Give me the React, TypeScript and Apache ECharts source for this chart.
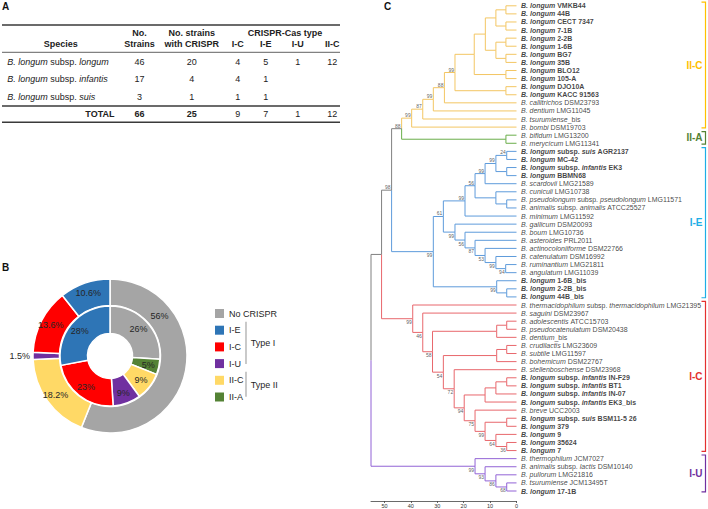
import React, { useEffect, useRef } from 'react';
import * as echarts from 'echarts';

const FONT = '"Liberation Sans", Arial, Helvetica, sans-serif';

// ---------------- Panel A: table ----------------
const speciesRows: [string, string][] = [
  ['B. longum', 'longum'],
  ['B. longum', 'infantis'],
  ['B. longum', 'suis'],
];
const noStrains = [46, 17, 3];
const withCrispr = [20, 4, 1];
const casTypes = ['I-C', 'I-E', 'I-U', 'II-C'];
const countIC: (number | null)[] = [4, 4, 1];
const countIE: (number | null)[] = [5, 1, 1];
const countIU: (number | null)[] = [1, null, null];
const countIIC: (number | null)[] = [12, null, null];
const totals = [66, 25, 9, 7, 1, 12];

// ---------------- Panel B: donut ----------------
const outerNames = ['No CRISPR', 'II-C', 'I-U', 'I-C', 'I-E'];
const outerPct = [56, 18.2, 1.5, 13.6, 10.6];
const innerNames = ['No CRISPR', 'II-A', 'II-C', 'I-U', 'I-C', 'I-E'];
const innerPct = [26, 5, 9, 9, 23, 28];
const legendOrder = ['No CRISPR', 'I-E', 'I-C', 'I-U', 'II-C', 'II-A'];

// ---------------- Panel C: tree ----------------
// [species, subspecies, strain, bold(this study)]
const leaves: [string, string, string, number][] = [
  ['B. longum', '', 'VMKB44', 1],
  ['B. longum', '', '44B', 1],
  ['B. longum', '', 'CECT 7347', 1],
  ['B. longum', '', '7-1B', 1],
  ['B. longum', '', '2-2B', 1],
  ['B. longum', '', '1-6B', 1],
  ['B. longum', '', 'BG7', 1],
  ['B. longum', '', '35B', 1],
  ['B. longum', '', 'BLO12', 1],
  ['B. longum', '', '105-A', 1],
  ['B. longum', '', 'DJO10A', 1],
  ['B. longum', '', 'KACC 91563', 1],
  ['B. callitrichos', '', 'DSM23793', 0],
  ['B. dentium', '', 'LMG11045', 0],
  ['B. tsurumiense', '', '_bis', 0],
  ['B. bombi', '', 'DSM19703', 0],
  ['B. bifidum', '', 'LMG13200', 0],
  ['B. merycicum', '', 'LMG11341', 0],
  ['B. longum', 'suis', 'AGR2137', 1],
  ['B. longum', '', 'MC-42', 1],
  ['B. longum', 'infantis', 'EK3', 1],
  ['B. longum', '', 'BBMN68', 1],
  ['B. scardovii', '', 'LMG21589', 0],
  ['B. cuniculi', '', 'LMG10738', 0],
  ['B. pseudolongum', 'pseudolongum', 'LMG11571', 0],
  ['B. animalis', 'animalis', 'ATCC25527', 0],
  ['B. minimum', '', 'LMG11592', 0],
  ['B. gallicum', '', 'DSM20093', 0],
  ['B. boum', '', 'LMG10736', 0],
  ['B. asteroides', '', 'PRL2011', 0],
  ['B. actinocoloniiforme', '', 'DSM22766', 0],
  ['B. catenulatum', '', 'DSM16992', 0],
  ['B. ruminantium', '', 'LMG21811', 0],
  ['B. angulatum', '', 'LMG11039', 0],
  ['B. longum', '', '1-6B_bis', 1],
  ['B. longum', '', '2-2B_bis', 1],
  ['B. longum', '', '44B_bis', 1],
  ['B. thermacidophilum', 'thermacidophilum', 'LMG21395', 0],
  ['B. saguini', '', 'DSM23967', 0],
  ['B. adolescentis', '', 'ATCC15703', 0],
  ['B. pseudocatenulatum', '', 'DSM20438', 0],
  ['B. dentium', '', '_bis', 0],
  ['B. crudilactis', '', 'LMG23609', 0],
  ['B. subtile', '', 'LMG11597', 0],
  ['B. bohemicum', '', 'DSM22767', 0],
  ['B. stellenboschense', '', 'DSM23968', 0],
  ['B. longum', 'infantis', 'IN-F29', 1],
  ['B. longum', 'infantis', 'BT1', 1],
  ['B. longum', 'infantis', 'IN-07', 1],
  ['B. longum', 'infantis', 'EK3_bis', 1],
  ['B. breve', '', 'UCC2003', 0],
  ['B. longum', 'suis', 'BSM11-5 26', 1],
  ['B. longum', '', '379', 1],
  ['B. longum', '', '9', 1],
  ['B. longum', '', '35624', 1],
  ['B. longum', '', '7', 1],
  ['B. thermophilum', '', 'JCM7027', 0],
  ['B. animalis', 'lactis', 'DSM10140', 0],
  ['B. pullorum', '', 'LMG21816', 0],
  ['B. tsurumiense', '', 'JCM13495T', 0],
  ['B. longum', '', '17-1B', 1],
];
const cladeNames = ['II-C', 'II-A', 'I-E', 'I-C', 'I-U'];
const cladeSizes = [16, 2, 19, 19, 5];

// internal node: [height (distance units), bootstrap (0 = none), childA, childB]; leaf = 1-based leaf index
type TNode = number | [number, number, TNode, TNode];
const cladeII: TNode = [43.5, 88,
  [39.7, 99, [35.5, 87, [31.5, 99, [27.3, 88, [23.3, 99,
    [16, 0, [11.8, 0, [7.8, 0, [4, 0, 1, 2], [4, 0, 3, 4]], [7.8, 0, [4, 0, 5, 6], [4, 0, 7, 8]]], [4, 0, 9, 10]],
    [4, 0, 11, 12]], 13], 14], 15], 16],
  [4, 0, 17, 18]];
const cladeIE: TNode = [31.5, 99,
  [27.7, 61,
    [19.5, 99, [15.7, 56, [11.9, 99, [7.8, 99, [3.7, 24, 19, 20], [3.7, 0, 21, 22]], 23], [7.8, 0, 24, [3.7, 0, 25, 26]]], 27],
    [23.3, 99, 28, [19.5, 56, 29, [15.7, 87, 30, [11.9, 53, 31, [7.8, 99, 32, [4.1, 94, 33, 34]]]]]]],
  [7.5, 99, 35, [3.7, 0, 36, 37]]];
const cladeIC: TNode = [39.3, 99, 38,
  [35.5, 46, 39,
    [31.8, 58, [7.5, 0, [3.7, 0, 40, 41], 42],
      [27.7, 54, [7.5, 0, [3.7, 0, 43, 44], 45],
        [23.6, 72, 46,
          [19.8, 94, [11.9, 0, [7.8, 0, [3.7, 0, 47, 48], 49], 50],
            [15.7, 75, 51, [11.9, 99, [3.7, 0, 52, 53], [7.8, 64, 54, [3.7, 36, 55, 56]]]]]]]]]];
const cladeIU: TNode = [15.7, 99, 57, [11.9, 93, 58, [7.8, 86, 59, [3.7, 68, 60, 61]]]];
const tree: TNode = [55.1, 0, [51.1, 0, [47.3, 98, cladeII, cladeIE], cladeIC], cladeIU];
const axisTickValues = [0, 10, 20, 30, 40, 50];
// bootstrap values from this leaf downward are written under their branch
const labelsBelowFromLeaf = 28;

// ---------------- styles ----------------
const donutColors: Record<string, string> = {
  'No CRISPR': '#A5A5A5', 'I-E': '#2E75B6', 'I-C': '#FF0000', 'I-U': '#7030A0', 'II-C': '#FFD966', 'II-A': '#548235',
};
const branchColors = ['#F3C663', '#6AAE4A', '#5E9BDB', '#E8676C', '#9263D6', '#808080'];
const bracketColors = ['#FFC000', '#548235', '#1EAEE6', '#E3302F', '#7030A0'];

function buildTree() {
  const leafClade: number[] = [];
  cladeSizes.forEach((n, ci) => { for (let k = 0; k < n; k++) leafClade.push(ci); });
  const edges: number[][] = [];
  const boots: { h: number; y: number; bs: number }[] = [];
  const walk = (node: TNode): { h: number; y: number; c: number } => {
    if (typeof node === 'number') return { h: 0, y: node, c: leafClade[node - 1] };
    const [h, bs, a, b] = node;
    const ca = walk(a);
    const cb = walk(b);
    const y = (ca.y + cb.y) / 2;
    for (const ch of [ca, cb]) edges.push([h, y, ch.h, ch.y, ch.c]);
    if (bs) boots.push({ h, y, bs });
    return { h, y, c: ca.c === cb.c ? ca.c : 5 };
  };
  walk(tree);
  return { edges, boots };
}

function leafLabel(l: [string, string, string, number]) {
  const [sp, sub, st, bold] = l;
  const si = bold ? 'bi' : 'i';
  const sn = bold ? 'b' : 'n';
  let s = `{${si}|${sp}}`;
  if (sub) s += `{${sn}|\u00A0subsp.\u00A0}{${si}|${sub}}`;
  s += st.startsWith('_') ? `{${sn}|${st}}` : `{${sn}|\u00A0${st}}`;
  return s;
}

function tableGraphics() {
  const els: any[] = [];
  const colX = [139.5, 191.7, 237.7, 265.7, 297.7, 332.3];
  const rowY = [61.7, 79.3, 97.3];
  const t = (x: number, y: number, text: string, align = 'center', bold = false, rich?: any) => ({
    type: 'text', x, y, silent: true,
    style: {
      text, fill: '#222', fontSize: 9, fontFamily: FONT, fontWeight: bold ? 'bold' : 'normal',
      align, verticalAlign: 'middle', textAlign: align, textVerticalAlign: 'middle', rich,
    },
  });
  const line = (y: number, w: number) => ({
    type: 'line', silent: true, shape: { x1: 2, y1: y, x2: 340, y2: y }, style: { stroke: '#3a3a3a', lineWidth: w },
  });
  els.push(line(25, 1.3), line(52.3, 0.8), line(106, 1.3), line(122.3, 1.5));
  els.push(t(139.5, 33.3, 'No.', 'center', true), t(139.5, 44.3, 'Strains', 'center', true));
  els.push(t(191.7, 33.3, 'No. strains', 'center', true), t(191.7, 44.3, 'with CRISPR', 'center', true));
  els.push(t(285, 33.3, 'CRISPR-Cas type', 'center', true));
  els.push(t(60.7, 44.3, 'Species', 'center', true));
  casTypes.forEach((c, i) => els.push(t(colX[2 + i], 44.3, c, 'center', true)));
  const italic = { fontStyle: 'italic', fontSize: 9, fontFamily: FONT, fill: '#222' };
  const plain = { fontSize: 9, fontFamily: FONT, fill: '#222' };
  speciesRows.forEach(([sp, sub], r) => {
    els.push(t(7.3, rowY[r], `{i|${sp}}{n|\u00A0subsp.\u00A0}{i|${sub}}`, 'left', false, { i: italic, n: plain }));
    const vals = [noStrains[r], withCrispr[r], countIC[r], countIE[r], countIU[r], countIIC[r]];
    vals.forEach((v, c) => { if (v !== null) els.push(t(colX[c], rowY[r], String(v))); });
  });
  els.push(t(114.5, 114.3, 'TOTAL', 'right', true));
  totals.forEach((v, c) => els.push(t(colX[c], 114.3, String(v), 'center', c < 2)));
  return els;
}

function buildOption() {
  const { edges, boots } = buildTree();
  const leafRich = leaves.map(leafLabel);
  const base = { fontSize: 7, fontFamily: FONT, color: '#111' };
  const bracketData: number[][] = [];
  let start = 1;
  cladeSizes.forEach((n, ci) => { bracketData.push([0, start - 0.45, start + n - 1 + 0.1, ci]); start += n; });

  const legendFont = { fontSize: 9, fontFamily: FONT, fill: '#262626' };
  const graphic: any[] = [
    ...tableGraphics(),
    { type: 'text', x: 2, y: 6, style: { text: 'A', fontSize: 10, fontWeight: 'bold', fontFamily: FONT, fill: '#111', verticalAlign: 'middle', textVerticalAlign: 'middle' } },
    { type: 'text', x: 2, y: 267.7, style: { text: 'B', fontSize: 10, fontWeight: 'bold', fontFamily: FONT, fill: '#111', verticalAlign: 'middle', textVerticalAlign: 'middle' } },
    { type: 'text', x: 384, y: 6.7, style: { text: 'C', fontSize: 10, fontWeight: 'bold', fontFamily: FONT, fill: '#111', verticalAlign: 'middle', textVerticalAlign: 'middle' } },
    { type: 'line', shape: { x1: 246, y1: 321.7, x2: 246, y2: 364 }, style: { stroke: '#A6A6A6', lineWidth: 1.2 } },
    { type: 'line', shape: { x1: 246, y1: 371.7, x2: 246, y2: 396.7 }, style: { stroke: '#A6A6A6', lineWidth: 1.2 } },
    { type: 'text', x: 250.7, y: 343.3, style: { ...legendFont, text: 'Type I', verticalAlign: 'middle', textVerticalAlign: 'middle' } },
    { type: 'text', x: 250.7, y: 385, style: { ...legendFont, text: 'Type II', verticalAlign: 'middle', textVerticalAlign: 'middle' } },
  ];

  const pieCommon = {
    type: 'pie', center: [110, 356], startAngle: 90, clockwise: true, avoidLabelOverlap: false, silent: true,
    itemStyle: { borderColor: '#fff', borderWidth: 1.5 },
    label: { show: true, position: 'inside', formatter: '{c}%', fontSize: 9, fontFamily: FONT, color: '#262626' },
    labelLine: { show: false, length: 0, length2: 0 },
    emphasis: { disabled: true },
  };

  return {
    animation: false,
    backgroundColor: '#fff',
    grid: [{ left: 371, top: 5.8, width: 145.5, height: 486 }],
    xAxis: [{
      gridIndex: 0, type: 'value', inverse: true, min: 0, max: 55.1, position: 'bottom', offset: 10,
      axisLine: { show: true, lineStyle: { color: '#444', width: 0.8 } },
      axisTick: { show: true, length: 2, customValues: axisTickValues, lineStyle: { color: '#444', width: 0.8 } },
      axisLabel: { customValues: axisTickValues, fontSize: 5.5, color: '#333', margin: 2, fontFamily: FONT },
      splitLine: { show: false },
    }],
    yAxis: [{ gridIndex: 0, type: 'value', inverse: true, min: 1, max: 61, show: false }],
    legend: {
      data: legendOrder, orient: 'vertical', left: 210, top: 304, itemWidth: 9, itemHeight: 9, itemGap: 7.7,
      icon: 'rect', selectedMode: false, itemStyle: { borderWidth: 0 },
      textStyle: { fontSize: 9, color: '#262626', fontFamily: FONT, lineHeight: 9 },
    },
    graphic,
    series: [
      {
        ...pieCommon, name: 'outer', radius: [50.5, 77],
        data: outerNames.map((n, i) => ({
          name: n, value: outerPct[i], itemStyle: { color: donutColors[n] },
          ...(n === 'I-U' ? { label: { position: 'outside', distanceToLabelLine: 3 } } : {}),
        })),
        labelLayout: (p: any) => (p.dataIndex === 0 ? { dx: -16, dy: -53 } : {}),
      },
      {
        ...pieCommon, name: 'inner', radius: [22.5, 50],
        data: innerNames.map((n, i) => ({ name: n, value: innerPct[i], itemStyle: { color: donutColors[n] } })),
      },
      {
        type: 'custom', name: 'branches', coordinateSystem: 'cartesian2d', xAxisIndex: 0, yAxisIndex: 0, silent: true,
        encode: { x: [0, 2], y: [1, 3] },
        data: edges,
        renderItem: (params: any, api: any) => {
          const p0 = api.coord([api.value(0), api.value(1)]);
          const p1 = api.coord([api.value(0), api.value(3)]);
          const p2 = api.coord([api.value(2), api.value(3)]);
          return {
            type: 'polyline', shape: { points: [p0, p1, p2] },
            style: { stroke: branchColors[api.value(4)], fill: 'none', lineWidth: 1 },
          };
        },
      },
      {
        type: 'scatter', name: 'leaves', xAxisIndex: 0, yAxisIndex: 0, symbolSize: 0, silent: true, clip: false,
        data: leaves.map((_, i) => [0, i + 1]),
        label: {
          show: true, position: 'right', distance: 4.5, ...base,
          formatter: (p: any) => leafRich[p.dataIndex],
          rich: {
            i: { ...base, fontStyle: 'italic' },
            bi: { ...base, fontStyle: 'italic', fontWeight: 'bold' },
            n: { ...base },
            b: { ...base, fontWeight: 'bold' },
          },
        },
      },
      {
        type: 'scatter', name: 'bootstrap', xAxisIndex: 0, yAxisIndex: 0, symbolSize: 0, silent: true, clip: false,
        data: boots.map((b) => {
          const below = b.y > labelsBelowFromLeaf;
          return {
            value: [b.h, b.y, b.bs],
            label: { position: [-1, below ? 1 : -0.5], verticalAlign: below ? 'top' : 'bottom' },
          };
        }),
        label: { show: true, formatter: (p: any) => String(p.value[2]), align: 'right', fontSize: 5, color: '#333', fontFamily: FONT },
      },
      {
        type: 'custom', name: 'brackets', coordinateSystem: 'cartesian2d', xAxisIndex: 0, yAxisIndex: 0, silent: true,
        encode: { x: 0, y: [1, 2] },
        data: bracketData,
        renderItem: (params: any, api: any) => {
          const yT = api.coord([0, api.value(1)])[1];
          const yB = api.coord([0, api.value(2)])[1];
          const xr = api.getWidth() - 2.5;
          const c = bracketColors[api.value(3)];
          return {
            type: 'group',
            children: [
              { type: 'polyline', shape: { points: [[xr - 4, yT], [xr, yT], [xr, yB], [xr - 4, yB]] }, style: { stroke: c, fill: 'none', lineWidth: 1.2 } },
              {
                type: 'text', x: xr - 3, y: (yT + yB) / 2,
                style: { text: cladeNames[api.value(3)], fill: c, fontSize: 10, fontWeight: 'bold', fontFamily: FONT, align: 'right', verticalAlign: 'middle', textAlign: 'right', textVerticalAlign: 'middle' },
              },
            ],
          };
        },
      },
    ],
  };
}

export default function App() {
  const ref = useRef<HTMLDivElement>(null);
  useEffect(() => {
    const chart = echarts.init(ref.current!, null, { renderer: 'svg' });
    chart.setOption(buildOption() as any);
    return () => chart.dispose();
  }, []);
  return <div ref={ref} style={{ position: 'absolute', left: 0, top: 0, width: 708, height: 509 }} />;
}
